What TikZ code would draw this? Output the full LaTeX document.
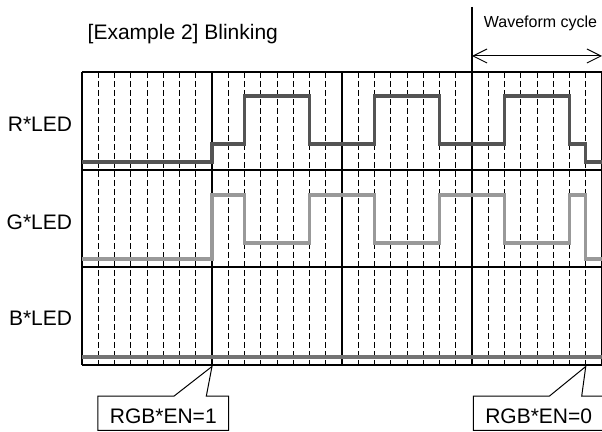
\documentclass[tikz,border=0pt]{standalone}
\usepackage{fontspec}
\setmainfont{Liberation Sans}
\usepackage{tikz}
\usetikzlibrary{calc}
\usetikzlibrary{arrows.meta}
\usetikzlibrary{positioning}

\definecolor{rline}{gray}{0.33}
\definecolor{gline}{gray}{0.60}
\definecolor{bline}{gray}{0.45}

\begin{document}
\begin{tikzpicture}[x=0.5pt,y=-0.5pt,
        gridline/.style={line width=0.6pt},
        subline/.style={line width=0.45pt,dash pattern=on 3pt off 1.5pt},
        wave/.style={line width=1.7pt},
        lbl/.style={inner sep=0pt,font=\fontsize{10.5}{12}\selectfont},
        callout/.style={lbl,minimum width=65pt,minimum height=16.7pt,text height=9.9pt,text depth=0pt}]
            \useasboundingbox (0,0) rectangle (602,432);

            % grid
            \foreach \c in {0,130,260,390}
                \foreach \k in {1,...,7}
                    \draw[subline] ({82+\c+16.25*\k},72) -- ++(0,293);
            \foreach \y in {72,170,267,365}
                \draw[gridline] (82,\y) -- (602,\y);
            \foreach \x in {82,212,342,472,602}
                \draw[gridline] (\x,72) -- (\x,365);

            % labels
            \node[lbl,anchor=base west] (title) at (87.3,40) {[Example 2] Blinking};
            \node[lbl,anchor=base east] (r) at (72.5,132) {R*LED};
            \node[lbl,anchor=base east] (g) at (72.5,229.3) {G*LED};
            \node[lbl,anchor=base east] (b) at (72.5,326) {B*LED};

            % waveform cycle
            \draw[gridline] (472,7) coordinate(c) -- (472,72);
            \coordinate (d) at (472,56);
            \coordinate (e) at (602,56);
            \draw[{Straight Barb[length=7pt,width=7pt]}-{Straight Barb[length=7pt,width=7pt]},line width=0.5pt] (d) -- (e);
            \node[inner sep=0pt,font=\fontsize{8}{10}\selectfont,anchor=base west] (wc) at (483.5,27.3) {Waveform cycle};

            % waveforms
            \draw[wave,color=rline] (82,162) -| (212,144) -| (244.5,96) -| (309.5,144) -| (374.5,96) -| (439.5,144) -| (504.5,96) -| (569.5,144) -| (585.75,162) -- (602,162);
            \draw[wave,color=gline] (82,259) -| (212,195) -| (244.5,243) -| (309.5,195) -| (374.5,243) -| (439.5,195) -| (504.5,243) -| (569.5,195) -| (585.75,259) -- (602,259);
            \draw[wave,color=bline] (82,357) -- (602,357);

            % enable callouts
            \coordinate (t1) at (212,366.5);
            \coordinate (t0) at (585.75,366.5);
            \node[callout] (en1) at (163.3,413.3) {RGB*EN=1};
            \node[callout] (en0) at (538.7,413.3) {RGB*EN=0};
            \draw[line width=0.5pt] (en1.north west) -- ++(76,0) -- (t1) -- ($(en1.north west)+(108.4,0)$) -- (en1.north east) |- (en1.south west) -- cycle;
            \draw[line width=0.5pt] (en0.north west) -- ++(76,0) -- (t0) -- ($(en0.north west)+(108.4,0)$) -- (en0.north east) |- (en0.south west) -- cycle;
        \end{tikzpicture}
\end{document}
